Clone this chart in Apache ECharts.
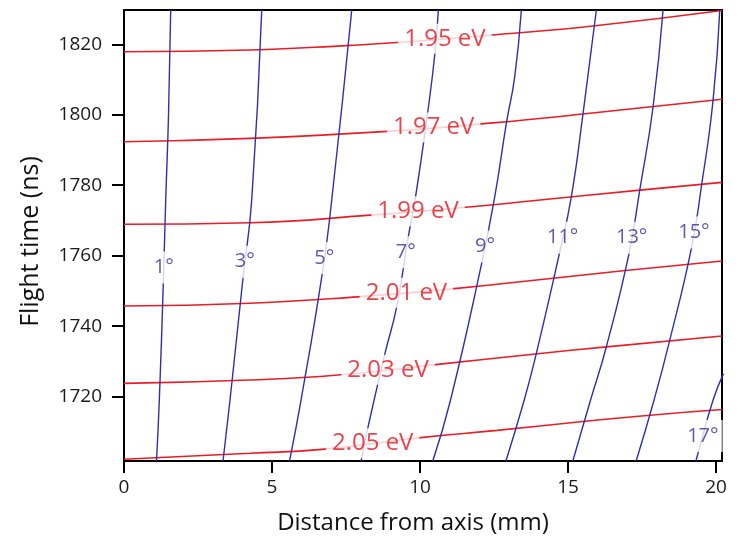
<!DOCTYPE html>
<html>
<head>
<meta charset="utf-8">
<script src="https://cdn.jsdelivr.net/npm/echarts@6/dist/echarts.min.js"></script>
<style>
  html, body { margin: 0; padding: 0; background: #fff; }
  #chart { width: 743px; height: 539px; }
</style>
</head>
<body>
<div id="chart"></div>
<script>
// Flight time versus distance from axis: iso-energy (red) and iso-angle (blue) contours

const xTicks = [0, 5, 10, 15, 20];
const yTicks = [1720, 1740, 1760, 1780, 1800, 1820];

// Iso-energy contours, points as [distance (mm), flight time (ns)]
const energyLevels = [1.95, 1.97, 1.99, 2.01, 2.03, 2.05];
const e195 = [[0, 1817.9], [4.26, 1818.4], [7.64, 1819.7], [9.22, 1820.5], [12.64, 1822.8], [15.84, 1825.2], [20.2, 1829.6]];
const e197 = [[0, 1792.35], [4.26, 1793.3], [8.75, 1795.2], [12.47, 1797.7], [15.5, 1800.2], [20.2, 1804.4]];
const e199 = [[0, 1768.9], [4.26, 1769.35], [8.31, 1771.5], [11.75, 1773.9], [13.72, 1775.5], [17.43, 1778.6], [20.2, 1780.8]];
const e201 = [[0, 1745.7], [4.26, 1746.5], [7.9, 1748.3], [11.25, 1750.7], [14.49, 1753.6], [16.86, 1755.7], [20.2, 1758.5]];
const e203 = [[0, 1723.75], [4.26, 1724.7], [7.23, 1726.1], [10.68, 1729.2], [13.9, 1732.1], [16.3, 1734.1], [20.2, 1737.2]];
const e205 = [[0, 1702.2], [4.26, 1703.9], [6.69, 1705.0], [10.1, 1708.4], [12.6, 1710.4], [15.5, 1712.9], [17.77, 1714.7], [20.2, 1716.3]];
// distance at which each energy label sits on its contour
const energyLabelX = [10.84, 10.46, 9.93, 9.54, 8.92, 8.40];

// Iso-angle contours (degrees), points as [distance (mm), flight time (ns)]
const angleLevels = [1, 3, 5, 7, 9, 11, 13, 15, 17];
const a1 = [[1.578, 1829.74], [1.503, 1799.64], [1.409, 1775.79], [1.328, 1752.23], [1.193, 1719.01], [1.098, 1701.69]];
const a3 = [[4.652, 1829.74], [4.314, 1775.79], [4.020, 1753.65], [3.581, 1719.01], [3.345, 1701.69]];
const a5 = [[7.693, 1829.74], [7.017, 1775.79], [6.689, 1754.50], [5.980, 1719.01], [5.591, 1701.69]];
const a7 = [[10.618, 1829.74], [10.507, 1817.81], [10.270, 1801.35], [9.831, 1775.79], [9.595, 1765.00], [9.213, 1745.50], [8.818, 1732.35], [8.243, 1711.34], [8.007, 1701.69]];
const a9 = [[13.422, 1829.74], [13.199, 1810.80], [12.916, 1797.57], [12.524, 1776.73], [12.084, 1757.90], [11.030, 1719.01], [10.43, 1701.69]];
const a11 = [[15.956, 1829.74], [15.507, 1800.41], [15.111, 1776.73], [14.696, 1760.18], [13.929, 1732.26], [13.52, 1719.01], [12.90, 1701.69]];
const a13 = [[18.209, 1829.74], [17.872, 1802.28], [17.422, 1778.63], [17.061, 1760.66], [16.294, 1734.14], [15.760, 1719.01], [15.16, 1701.69]];
const a15 = [[20.125, 1829.74], [19.899, 1804.19], [19.503, 1779.57], [19.166, 1762.08], [18.436, 1736.04], [17.905, 1719.01], [17.30, 1701.69]];
const a17 = [[20.25, 1726.5], [19.899, 1719.01], [19.392, 1703.96], [19.32, 1701.69]];
// flight time at which each angle label sits on its contour
const angleLabelT = [1756.6, 1758.3, 1759.3, 1761.0, 1762.6, 1765.1, 1765.1, 1766.6, 1708.8];

const energyCurves = [e195, e197, e199, e201, e203, e205];
const angleCurves = [a1, a3, a5, a7, a9, a11, a13, a15, a17];

const RED = '#ea1c26';
const RED_TEXT = '#e3141e';
const BLUE = '#2f2fae';
const BLUE_TEXT = '#3a2d9f';
const FONT = 'Open Sans';

// linear interpolation along a curve
function yAtX(curve, x) {
  for (let i = 0; i < curve.length - 1; i++) {
    const [x0, y0] = curve[i], [x1, y1] = curve[i + 1];
    if (x >= x0 && x <= x1) return y0 + (y1 - y0) * (x - x0) / (x1 - x0);
  }
  return curve[curve.length - 1][1];
}
function xAtY(curve, y) {
  for (let i = 0; i < curve.length - 1; i++) {
    const [x0, y0] = curve[i], [x1, y1] = curve[i + 1];
    if ((y <= y0 && y >= y1) || (y >= y0 && y <= y1)) return x0 + (x1 - x0) * (y - y0) / (y1 - y0);
  }
  return curve[curve.length - 1][0];
}

const series = [];
energyCurves.forEach((c) => {
  series.push({
    type: 'line', data: c, showSymbol: false, smooth: 0.5,
    lineStyle: { color: RED, width: 1.6 }, z: 2, silent: true, clip: true
  });
});
angleCurves.forEach((c) => {
  series.push({
    type: 'line', data: c, showSymbol: false, smooth: 0.5,
    lineStyle: { color: BLUE, width: 1.4 }, z: 2, silent: true, clip: true
  });
});

// energy labels, boxed in white so they cut through the contours
series.push({
  type: 'scatter', z: 10, silent: true, symbolSize: 1,
  itemStyle: { color: 'rgba(0,0,0,0)' },
  data: energyLevels.map((e, i) => ({
    value: [energyLabelX[i], yAtX(energyCurves[i], energyLabelX[i])],
    label: { formatter: e.toFixed(2) + ' eV' }
  })),
  label: {
    show: true, position: 'inside', color: RED_TEXT, fontSize: 24, fontWeight: 500, fontFamily: FONT,
    backgroundColor: '#fff', padding: [3, 6], lineHeight: 24
  }
});
// angle labels
series.push({
  type: 'scatter', z: 10, silent: true, symbolSize: 1,
  itemStyle: { color: 'rgba(0,0,0,0)' },
  data: angleLevels.map((a, i) => ({
    value: [xAtY(angleCurves[i], angleLabelT[i]), angleLabelT[i]],
    label: { formatter: a + '°' }
  })),
  label: {
    show: true, position: 'inside', color: BLUE_TEXT, fontSize: 20, fontWeight: 500, fontFamily: FONT,
    backgroundColor: '#fff', padding: [5, 4], lineHeight: 22
  }
});

const chart = echarts.init(document.getElementById('chart'), null, { renderer: 'canvas' });
chart.setOption({
  animation: false,
  backgroundColor: '#fff',
  grid: {
    left: 124, right: 21, top: 10, bottom: 78,
    show: true, borderColor: '#000', borderWidth: 2,
    containLabel: false, outerBoundsMode: 'none'
  },
  xAxis: {
    type: 'value', min: 0, max: 20.2,
    name: 'Distance from axis (mm)', nameLocation: 'middle', nameGap: 50,
    nameTextStyle: { fontSize: 24, fontWeight: 500, color: '#111', fontFamily: FONT, padding: [0, 20, 0, 0] },
    axisLine: { show: true, lineStyle: { color: '#000', width: 2 } },
    axisTick: { show: true, length: 12, lineStyle: { color: '#000', width: 2 }, customValues: xTicks },
    axisLabel: { customValues: xTicks, fontSize: 19, fontWeight: 500, color: '#1a1a1a', fontFamily: FONT, margin: 17, formatter: (v) => String(v) },
    splitLine: { show: false }
  },
  yAxis: {
    type: 'value', min: 1701.7, max: 1829.74,
    name: 'Flight time (ns)', nameLocation: 'middle', nameGap: 81, nameRotate: 90,
    nameTextStyle: { fontSize: 25, fontWeight: 500, color: '#111', fontFamily: FONT, padding: [0, 12, 0, 0] },
    axisLine: { show: true, lineStyle: { color: '#000', width: 2 } },
    axisTick: { show: true, length: 12, lineStyle: { color: '#000', width: 2 }, customValues: yTicks },
    axisLabel: { customValues: yTicks, fontSize: 19, fontWeight: 500, color: '#1a1a1a', fontFamily: FONT, margin: 22, formatter: (v) => String(v) },
    splitLine: { show: false }
  },
  series: series
});
</script>
</body>
</html>
